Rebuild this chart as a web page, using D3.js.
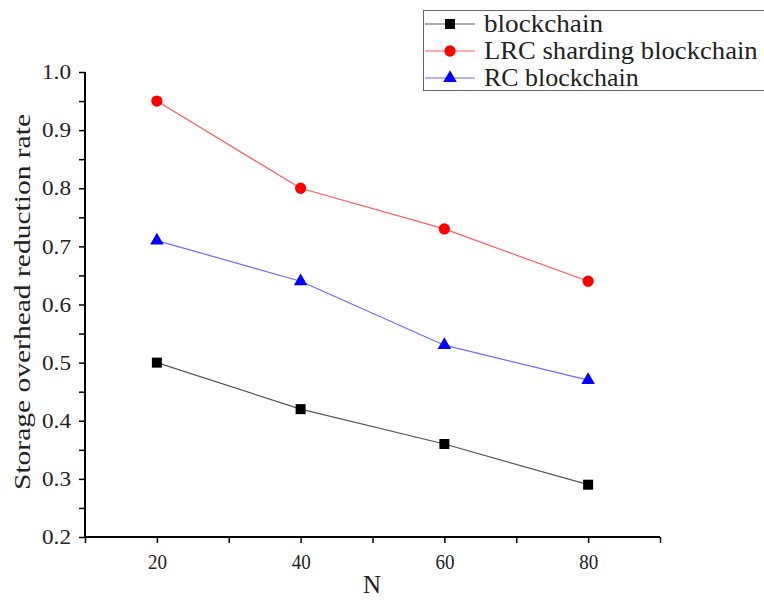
<!DOCTYPE html>
<html>
<head>
<meta charset="utf-8">
<script src="https://cdn.jsdelivr.net/npm/d3@7"></script>
<style>
  body { margin: 0; background: #fff; }
  text { font-family: "Liberation Serif", "DejaVu Serif", serif; fill: #222; }
</style>
</head>
<body>
<svg id="chart" width="764" height="604"></svg>
<script>
// data
var nValues = [20, 40, 60, 80];
var blockchain = [0.50, 0.42, 0.36, 0.29];
var lrcSharding = [0.95, 0.80, 0.73, 0.64];
var rcBlockchain = [0.71, 0.64, 0.53, 0.47];
var seriesNames = ["blockchain", "LRC sharding blockchain", "RC blockchain"];
var xTicks = [20, 40, 60, 80];
var yTicks = [0.2, 0.3, 0.4, 0.5, 0.6, 0.7, 0.8, 0.9, 1.0];

var svg = d3.select("#chart");

var plotLeft = 85, plotRight = 660, plotTop = 72, plotBottom = 537;

var x = d3.scaleLinear().domain([10, 90]).range([plotLeft, plotRight]);
var y = d3.scaleLinear().domain([0.2, 1.0]).range([plotBottom, plotTop]);

var series = [
    {name: seriesNames[0], values: blockchain, line: "#555", fill: "#000", sym: d3.symbolSquare, size: 100},
    {name: seriesNames[1], values: lrcSharding, line: "#ff5a5a", fill: "#ff0000", sym: d3.symbolCircle, size: 100},
    {name: seriesNames[2], values: rcBlockchain, line: "#6a6aff", fill: "#0000ff", sym: d3.symbolTriangle, size: 80}
];

// axes
var xAxis = d3.axisBottom(x).tickValues(d3.range(10, 91, 10)).tickSize(6)
    .tickFormat(function(d) { return xTicks.indexOf(d) >= 0 ? d : ""; });
var gx = svg.append("g").attr("transform", "translate(0," + plotBottom + ")").call(xAxis);

var yAxis = d3.axisLeft(y).tickValues(d3.range(0, 17).map(function(i) { return +(0.2 + i * 0.05).toFixed(2); }))
    .tickSize(6)
    .tickFormat(function(d) {
        var hit = yTicks.some(function(t) { return Math.abs(t - d) < 1e-6; });
        return hit ? d3.format(".1f")(d) : "";
    });
var gy = svg.append("g").attr("transform", "translate(" + plotLeft + ",0)").call(yAxis);

[gx, gy].forEach(function(g) {
    g.attr("font-family", null).attr("font-size", null);
    g.select(".domain").attr("stroke", "#000").attr("stroke-width", 2);
    g.selectAll(".tick line").attr("stroke", "#000").attr("stroke-width", 1.5);
    g.selectAll(".tick text").style("font-size", "21px").attr("fill", "#222");
});
gx.select(".domain").attr("d", "M" + plotLeft + ",0H" + plotRight);
gy.select(".domain").attr("d", "M0," + plotBottom + "V" + plotTop);
gx.selectAll(".tick text").attr("dy", "0.71em").attr("y", 17)
    .each(function() { if (this.textContent) d3.select(this).attr("textLength", 19).attr("lengthAdjust", "spacingAndGlyphs"); });
gy.selectAll(".tick text").attr("x", -14)
    .each(function() { if (this.textContent) d3.select(this).attr("textLength", 29).attr("lengthAdjust", "spacingAndGlyphs"); });

// axis titles
svg.append("text")
    .attr("x", 372).attr("y", 593)
    .attr("text-anchor", "middle")
    .style("font-size", "25px")
    .text("N");

svg.append("text")
    .attr("transform", "translate(30," + 302 + ") rotate(-90)")
    .attr("text-anchor", "middle")
    .attr("textLength", 376).attr("lengthAdjust", "spacingAndGlyphs")
    .style("font-size", "24px")
    .text("Storage overhead reduction rate");

// lines and markers
var line = d3.line()
    .x(function(d, i) { return x(nValues[i]); })
    .y(function(d) { return y(d); });

series.forEach(function(s) {
    svg.append("path")
        .attr("d", line(s.values))
        .attr("fill", "none")
        .attr("stroke", s.line)
        .attr("stroke-width", 1.2);
    svg.selectAll(null).data(s.values).enter().append("path")
        .attr("d", d3.symbol().type(s.sym).size(s.size))
        .attr("transform", function(d, i) { return "translate(" + x(nValues[i]) + "," + y(d) + ")"; })
        .attr("fill", s.fill);
});

// legend
var legend = svg.append("g");
legend.append("rect")
    .attr("x", 423.5).attr("y", 10.5).attr("width", 360).attr("height", 80)
    .attr("fill", "#fff").attr("stroke", "#666").attr("stroke-width", 1);

series.forEach(function(s, i) {
    var cy = 24 + i * 27;
    legend.append("line")
        .attr("x1", 425).attr("x2", 475).attr("y1", cy).attr("y2", cy)
        .attr("stroke", s.line).attr("stroke-width", 1.2);
    legend.append("path")
        .attr("d", d3.symbol().type(s.sym).size(s.size))
        .attr("transform", "translate(450," + cy + ")")
        .attr("fill", s.fill);
    legend.append("text")
        .attr("x", 484).attr("y", cy + 8)
        .attr("textLength", s.name.length * 11.9).attr("lengthAdjust", "spacingAndGlyphs")
        .style("font-size", "25px")
        .text(s.name);
});
</script>
</body>
</html>
